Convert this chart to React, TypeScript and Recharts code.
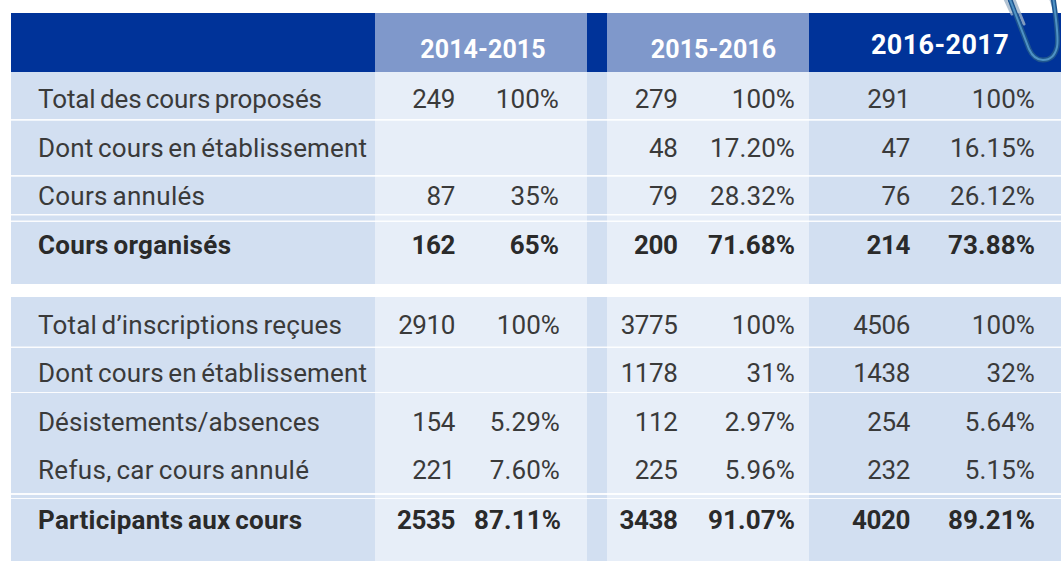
import React from 'react';
import { ScatterChart, Scatter, XAxis, YAxis, ReferenceArea } from 'recharts';

const W = 1061, H = 561;
const rowLabels = ['Total des cours proposés','Dont cours en établissement','Cours annulés','Cours organisés','Total d’inscriptions reçues','Dont cours en établissement','Désistements/absences','Refus, car cours annulé','Participants aux cours'];
const count2014 = [249,null,87,162,2910,null,154,221,2535];
const pct2014 = ['100%',null,'35%','65%','100%',null,'5.29%','7.60%','87.11%'];
const count2015 = [279,48,79,200,3775,1178,112,225,3438];
const pct2015 = ['100%','17.20%','28.32%','71.68%','100%','31%','2.97%','5.96%','91.07%'];
const count2016 = [291,47,76,214,4506,1438,254,232,4020];
const pct2016 = ['100%','16.15%','26.12%','73.88%','100%','32%','5.64%','5.15%','89.21%'];
const headers = ['2014-2015','2015-2016','2016-2017'];
const boldRows = [3, 8];

const rowBase = [108,156.5,205,254,333.5,381.7,431,479,528.7];
const rowWidths = [284,329,167,193,304,329,282,271,264];
const colRight = [[455,559],[677.5,795],[910,1035]];
const counts = [count2014,count2015,count2016];
const pcts = [pct2014,pct2015,pct2016];
const FONT = 'Roboto, sans-serif';
const DARK = '#003399', MID = '#7f98cb', LIGHT = '#d2dff1', PALE = '#e7eef8';

const Cell = (p: any) => {
  const d = p.payload;
  return <text x={p.cx} y={p.cy} textAnchor={d.anchor} fontFamily={FONT} fontSize={d.size}
    fontWeight={d.bold ? 700 : 400} fill={d.fill} letterSpacing={d.ls} wordSpacing={d.ws}
    textLength={d.len} lengthAdjust={d.len ? 'spacing' : undefined}>{d.text}</text>;
};

const rowPoints = rowLabels.map((t, i) => ({ x: 38, y: rowBase[i], text: t, anchor: 'start', bold: boldRows.includes(i), size: 26, fill: boldRows.includes(i) ? '#2a2a2a' : '#3a3a3a', ws: -2, len: rowWidths[i] }));
const cellPoints = counts.flatMap((col, c) => col.flatMap((v, i) => {
  const bold = boldRows.includes(i);
  const base = { y: rowBase[i], anchor: 'end', bold, size: 26, fill: bold ? '#2a2a2a' : '#3a3a3a' };
  const pctShift = c === 0 && i >= 4 ? (i === 8 ? 2 : 1) : 0;
  const out: any[] = [];
  if (v !== null) out.push({ ...base, ls: -0.4, x: colRight[c][0], text: String(v) });
  if (pcts[c][i] !== null) out.push({ ...base, ls: 0.1, x: colRight[c][1] + pctShift, text: pcts[c][i] });
  return out;
}));
const headerPoints = [
  { x: 483, y: 57.7, text: headers[0], anchor: 'middle', bold: true, size: 25, fill: '#fff', ls: 0.1 },
  { x: 713.5, y: 57.7, text: headers[1], anchor: 'middle', bold: true, size: 25, fill: '#fff', ls: 0.1 },
  { x: 940, y: 53.5, text: headers[2], anchor: 'middle', bold: true, size: 27, fill: '#fff', ls: 0.4 },
];
const clipAnchor = [{ x: 0, y: 0 }];

const bands: [number, number, number, number, string][] = [
  [11,375,13,72,DARK],[375,587,13,72,MID],[587,607,13,72,DARK],[607,809,13,72,MID],[809,1061,13,72,DARK],
  [11,375,72,284,LIGHT],[375,587,72,284,PALE],[587,607,72,284,LIGHT],[607,809,72,284,PALE],[809,1061,72,284,LIGHT],
  [11,375,297,561,LIGHT],[375,587,297,561,PALE],[587,607,297,561,LIGHT],[607,809,297,561,PALE],[809,1061,297,561,LIGHT],
];
const rules: [number, number][] = [[119,120.7],[175,176.7],[214,215.5],[220.5,222],[346.5,348],[392,393],[493,495],[498,499]];

const Clip = () => (
  <g fill="none" strokeLinecap="round">
    <path d="M1004,-3 L1012,14 M1013,-3 L1024,24" stroke="#9fb4c8" strokeWidth={3} opacity={0.8} />
    <path d="M1050,-3 L1056,14" stroke="#9fb4c8" strokeWidth={3} opacity={0.8} />
    <path d="M1009,-3 L1029,49 Q1034,60 1043,60 Q1054,60 1057,47 Q1059,38 1053,-3" stroke="#1f568f" strokeWidth={5} />
    <path d="M1009,-3 L1029,49 Q1034,60 1043,60 Q1054,60 1057,47 Q1059,38 1053,-3" stroke="#4f92c4" strokeWidth={2} />
  </g>
);

export default function App() {
  return (
    <div style={{ position: 'absolute', left: 0, top: 0, width: W, height: H }}>
      <ScatterChart width={W} height={H} margin={{ top: 0, right: 0, bottom: 0, left: 0 }}>
        <XAxis type="number" dataKey="x" domain={[0, W]} hide />
        <YAxis type="number" dataKey="y" domain={[0, H]} reversed hide />
        {bands.map((b, i) => <ReferenceArea key={i} x1={b[0]} x2={b[1]} y1={b[2]} y2={b[3]} fill={b[4]} fillOpacity={1} stroke="none" />)}
        {rules.map((r, i) => <ReferenceArea key={'r' + i} x1={11} x2={W} y1={r[0]} y2={r[1]} fill="#fff" fillOpacity={0.9} stroke="none" />)}
        <Scatter data={headerPoints} shape={Cell} isAnimationActive={false} />
        <Scatter data={rowPoints} shape={Cell} isAnimationActive={false} />
        <Scatter data={cellPoints} shape={Cell} isAnimationActive={false} />
        <Scatter data={clipAnchor} shape={Clip} isAnimationActive={false} />
      </ScatterChart>
    </div>
  );
}
